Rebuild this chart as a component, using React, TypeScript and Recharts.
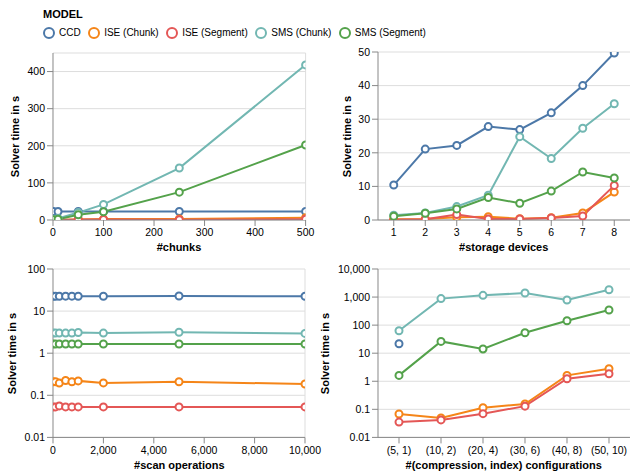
import React from 'react';
import { LineChart, Line, XAxis, YAxis, CartesianGrid, ReferenceLine } from 'recharts';

const FONT = '"Liberation Sans", Arial, Helvetica, sans-serif';

const MODELS = ['CCD', 'ISE (Chunk)', 'ISE (Segment)', 'SMS (Chunk)', 'SMS (Segment)'];
const KEYS = ['ccd', 'iseChunk', 'iseSeg', 'smsChunk', 'smsSeg'];
const COLORS = ['#4c78a8', '#f58518', '#e45756', '#72b7b2', '#54a24b'];

// #chunks
const chunks = [1, 10, 50, 100, 250, 500];
const chunksCcd = [23, 23, 23, 23, 23, 23];
const chunksIseChunk = [0.3, 0.5, 1.5, 2.5, 3, 6];
const chunksIseSeg = [0.1, 0.3, 1.2, 1.5, 1, 2];
const chunksSmsChunk = [2, 4, 20, 42, 140, 418];
const chunksSmsSeg = [1, 2, 14, 22, 75, 202];

// #storage devices
const devices = [1, 2, 3, 4, 5, 6, 7, 8];
const devicesCcd = [10.4, 21.1, 22.2, 27.8, 26.9, 31.9, 40, 49.7];
const devicesIseChunk = [0.2, 0.3, 0.8, 1.0, 0.4, 0.7, 2.1, 8.3];
const devicesIseSeg = [0.1, 0.2, 1.6, 0.3, 0.3, 0.6, 1.2, 10.3];
const devicesSmsChunk = [1.4, 2.1, 4.0, 7.4, 24.8, 18.3, 27.3, 34.6];
const devicesSmsSeg = [1.1, 2.0, 3.3, 6.7, 5.0, 8.6, 14.3, 12.5];

// #scan operations
const scans = [10, 100, 250, 500, 750, 1000, 2000, 5000, 10000];
const scansCcd = [22.5, 22.5, 22.5, 22.6, 22.6, 22.5, 22.5, 22.8, 22.5];
const scansIseChunk = [0.21, 0.21, 0.195, 0.225, 0.21, 0.22, 0.197, 0.21, 0.185];
const scansIseSeg = [0.053, 0.053, 0.056, 0.053, 0.053, 0.053, 0.053, 0.053, 0.053];
const scansSmsChunk = [3.0, 3.0, 3.0, 3.0, 3.0, 3.1, 3.0, 3.15, 2.95];
const scansSmsSeg = [1.65, 1.65, 1.65, 1.65, 1.65, 1.65, 1.65, 1.65, 1.65];

// #(compression, index) configurations
const configs = ['(5, 1)', '(10, 2)', '(20, 4)', '(30, 6)', '(40, 8)', '(50, 10)'];
const configsCcd = [21.8, null, null, null, null, null];
const configsIseChunk = [0.068, 0.049, 0.114, 0.155, 1.62, 2.8];
const configsIseSeg = [0.035, 0.042, 0.07, 0.13, 1.23, 1.86];
const configsSmsChunk = [63, 880, 1150, 1390, 785, 1830];
const configsSmsSeg = [1.62, 26.3, 14.1, 53.7, 143, 345];

const buildRows = (xs: number[], series: (number | null)[][]) =>
  xs.map((x, i) => {
    const row: Record<string, number | null> = { x };
    KEYS.forEach((k, j) => {
      row[k] = series[j][i];
    });
    return row;
  });

const chunkRows = buildRows(chunks, [chunksCcd, chunksIseChunk, chunksIseSeg, chunksSmsChunk, chunksSmsSeg]);
const deviceRows = buildRows(devices, [devicesCcd, devicesIseChunk, devicesIseSeg, devicesSmsChunk, devicesSmsSeg]);
const scanRows = buildRows(scans, [scansCcd, scansIseChunk, scansIseSeg, scansSmsChunk, scansSmsSeg]);
const configRows = buildRows(
  configs.map((_, i) => i),
  [configsCcd, configsIseChunk, configsIseSeg, configsSmsChunk, configsSmsSeg]
);

const fmtNum = (v: number) => (v >= 1 ? v.toLocaleString('en-US') : String(v));

const tickStyle = { fill: '#000', fontSize: 10.5, fontFamily: FONT };
const lineStyle = { stroke: '#888' };

interface PanelProps {
  rows: Record<string, number | null>[];
  left: number;
  top: number;
  width: number;
  height: number;
  xDomain: [number, number];
  xTicks: number[];
  xFormat?: (v: number) => string;
  yDomain: [number, number];
  yTicks: number[];
  log?: boolean;
  rightLine?: number;
}

const YW = 60;
const RM = 30;

const Panel: React.FC<PanelProps> = (p) => (
  <div style={{ position: 'absolute', left: p.left - YW, top: p.top - 10 }}>
    <LineChart
      width={YW + p.width + RM}
      height={10 + p.height + 30}
      data={p.rows}
      margin={{ top: 10, right: RM, left: 0, bottom: 0 }}
    >
      <CartesianGrid vertical={false} stroke="#ddd" />
      <XAxis
        dataKey="x"
        type="number"
        domain={p.xDomain}
        ticks={p.xTicks}
        tickFormatter={p.xFormat || fmtNum}
        interval={0}
        height={30}
        tick={tickStyle}
        tickLine={lineStyle}
        axisLine={lineStyle}
        tickMargin={3}
        allowDataOverflow
      />
      <YAxis
        type="number"
        scale={p.log ? 'log' : 'linear'}
        domain={p.yDomain}
        ticks={p.yTicks}
        tickFormatter={fmtNum}
        interval={0}
        width={YW}
        tick={tickStyle}
        tickLine={lineStyle}
        axisLine={lineStyle}
        allowDataOverflow
      />
      {p.rightLine !== undefined && <ReferenceLine x={p.rightLine} stroke="#ddd" />}
      {KEYS.map((k, i) => (
        <Line
          key={k}
          dataKey={k}
          type="linear"
          stroke={COLORS[i]}
          strokeWidth={2}
          dot={{ r: 3.5, strokeWidth: 2, fill: '#fff', stroke: COLORS[i] }}
          activeDot={false}
          isAnimationActive={false}
        />
      ))}
    </LineChart>
  </div>
);

const Titles: React.FC = () => {
  const t = { fontFamily: FONT, fontSize: 11, fontWeight: 700, fill: '#000', textAnchor: 'middle' as const };
  return (
    <svg width={630} height={473} style={{ position: 'absolute', left: 0, top: 0, pointerEvents: 'none' }}>
      <text {...t} transform="translate(19,136.5) rotate(-90)">Solver time in s</text>
      <text {...t} transform="translate(351,136.5) rotate(-90)">Solver time in s</text>
      <text {...t} transform="translate(16,353.5) rotate(-90)">Solver time in s</text>
      <text {...t} transform="translate(329,353.5) rotate(-90)">Solver time in s</text>
      <text {...t} x={179} y={251}>#chunks</text>
      <text {...t} x={503.7} y={251}>#storage devices</text>
      <text {...t} x={179.3} y={469}>#scan operations</text>
      <text {...t} x={503.7} y={469}>#(compression, index) configurations</text>
    </svg>
  );
};

const Legend: React.FC = () => (
  <div style={{ position: 'absolute', left: 43, top: 7, fontFamily: FONT, color: '#000' }}>
    <div style={{ fontSize: 11, fontWeight: 700, lineHeight: '14px' }}>MODEL</div>
    <div style={{ display: 'flex', alignItems: 'center', marginTop: 6, gap: 7.5 }}>
      {MODELS.map((m, i) => (
        <div key={m} style={{ display: 'flex', alignItems: 'center', gap: 4 }}>
          <svg width={12} height={12}>
            <circle cx={6} cy={6} r={5} fill="none" stroke={COLORS[i]} strokeWidth={2} />
          </svg>
          <span style={{ fontSize: 10, lineHeight: '12px' }}>{m}</span>
        </div>
      ))}
    </div>
  </div>
);

export default function App() {
  return (
    <div style={{ position: 'absolute', left: 0, top: 0, width: 630, height: 473, background: '#fff', overflow: 'hidden' }}>
      <Legend />
      <Titles />
      <Panel
        rows={chunkRows}
        left={52.7}
        top={53}
        width={252.6}
        height={167}
        xDomain={[0, 500]}
        xTicks={[0, 100, 200, 300, 400, 500]}
        yDomain={[0, 450]}
        yTicks={[0, 100, 200, 300, 400]}
        rightLine={500}
      />
      <Panel
        rows={deviceRows}
        left={377.7}
        top={52.3}
        width={252}
        height={168}
        xDomain={[0.5, 8.5]}
        xTicks={devices}
        yDomain={[0, 50]}
        yTicks={[0, 10, 20, 30, 40, 50]}
      />
      <Panel
        rows={scanRows}
        left={53.3}
        top={269.3}
        width={252}
        height={168.4}
        xDomain={[0, 10000]}
        xTicks={[0, 2000, 4000, 6000, 8000, 10000]}
        yDomain={[0.01, 100]}
        yTicks={[0.01, 0.1, 1, 10, 100]}
        log
        rightLine={10000}
      />
      <Panel
        rows={configRows}
        left={377.7}
        top={269.3}
        width={252}
        height={168.4}
        xDomain={[-0.5, 5.5]}
        xTicks={[0, 1, 2, 3, 4, 5]}
        xFormat={(v) => configs[v] ?? ''}
        yDomain={[0.01, 10000]}
        yTicks={[0.01, 0.1, 1, 10, 100, 1000, 10000]}
        log
      />
    </div>
  );
}
